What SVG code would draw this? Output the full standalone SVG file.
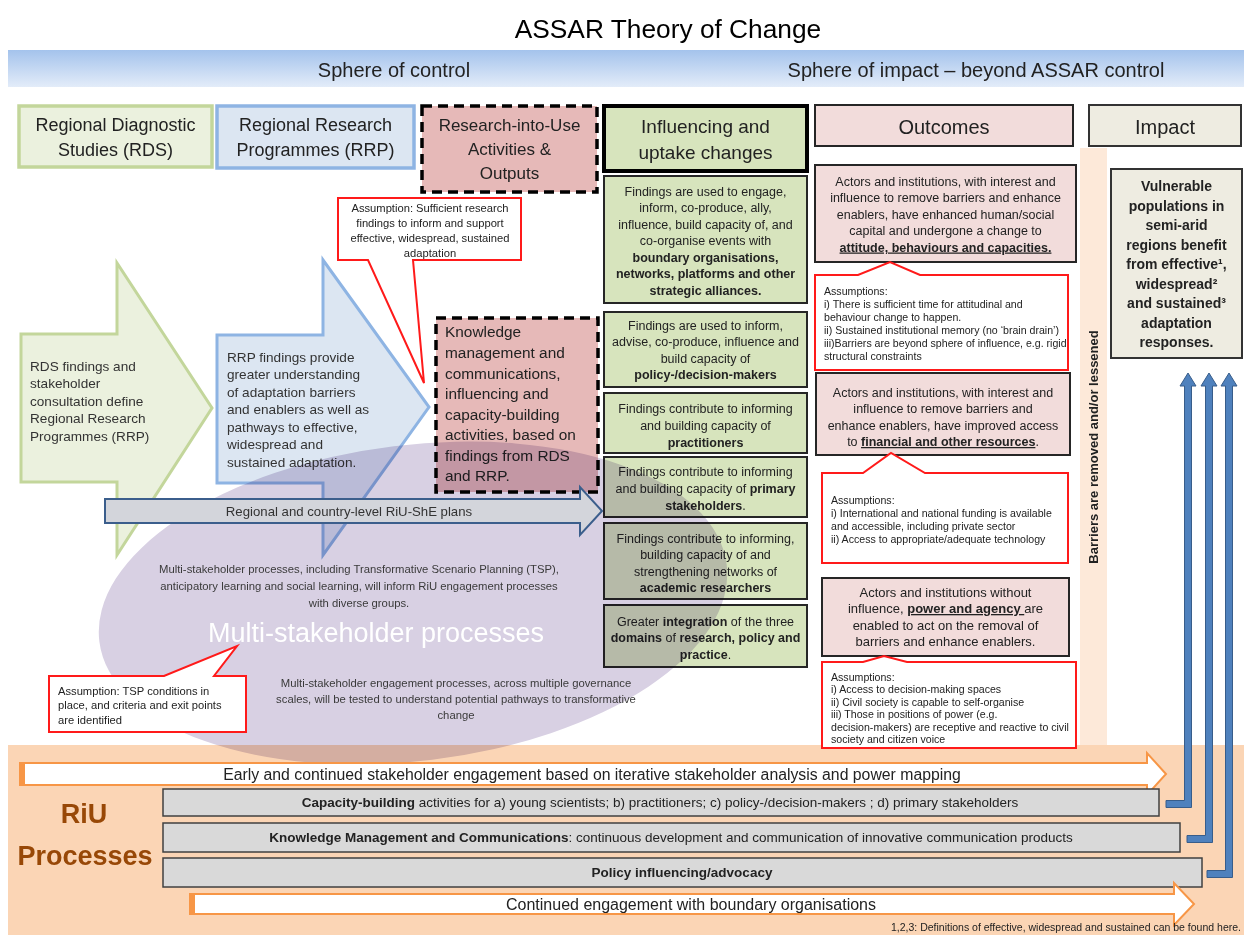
<svg xmlns="http://www.w3.org/2000/svg" width="1244" height="935" viewBox="0 0 1244 935" xml:space="preserve">
<defs>
  <linearGradient id="sphereGrad" x1="0" y1="0" x2="0" y2="1">
    <stop offset="0" stop-color="#a4c3ec"/>
    <stop offset="1" stop-color="#e3ecf9"/>
  </linearGradient>
  <style>
    text { font-family: "Liberation Sans", Arial, sans-serif; fill: #222; }
    .c { text-anchor: middle; }
    .b { font-weight: bold; }
    .u { text-decoration: underline; }
    .hdr18 { font-size: 18px; }
    .hdr17 { font-size: 17px; }
    .hdr19 { font-size: 19px; }
    .hdr20 { font-size: 20px; }
    .s125 { font-size: 12.5px; }
    .s13 { font-size: 13px; }
    .s106 { font-size: 10.6px; }
    .s112 { font-size: 11.2px; }
    .s136 { font-size: 13.6px; fill: #333; }
    .s154 { font-size: 15.4px; }
    .s113 { font-size: 11.3px; fill: #3a3a3a; }
    .s135 { font-size: 13.5px; }
    .green-box { fill: #d7e4bd; stroke: #262626; stroke-width: 2; }
    .pink-box { fill: #f2dcdb; stroke: #262626; stroke-width: 2; }
    .tan-box { fill: #eeece1; stroke: #333; stroke-width: 2; }
    .callout { fill: #fff; stroke: #ff1a1a; stroke-width: 2; stroke-linejoin: miter; }
    .dash { fill: #e6b9b8; stroke: #000; stroke-width: 3.5; stroke-dasharray: 10 6; }
    .bar { fill: #d9d9d9; stroke: #404040; stroke-width: 1.5; }
    .orange-arrow { fill: #fff; stroke: #f79646; stroke-width: 2; }
    .orange-edge { fill: #f79646; }
    .up { fill: #4f81bd; stroke: #385d8a; stroke-width: 1; }
  </style>
</defs>
<rect x="0" y="0" width="1244" height="935" fill="#fff"/>
<!-- title and sphere band -->
<g id="title"><text x="668" y="38" class="c" style="font-size:26.3px;fill:#000">ASSAR Theory of Change</text></g>
<g id="sphere-band">
  <rect x="8" y="50" width="1236" height="37" fill="url(#sphereGrad)"/>
  <text x="394" y="77" class="c hdr20">Sphere of control</text>
  <text x="976" y="77" class="c hdr20">Sphere of impact – beyond ASSAR control</text>
</g>
<!-- RiU processes band (background) -->
<rect id="riu-band" x="8" y="745" width="1236" height="190" fill="#fbd5b5"/>
<!-- barriers column -->
<g id="barriers">
  <rect x="1080" y="148" width="27" height="597" fill="#fde9d9"/>
  <text transform="translate(1097.5,447) rotate(-90)" class="c b" style="font-size:13px">Barriers are removed and/or lessened</text>
</g>
<!-- column headers -->
<g id="rds-header">
  <rect x="19" y="106" width="193" height="61" fill="#ebf1de" stroke="#c3d69b" stroke-width="3.5"/>
  <text x="115.5" y="130.5" class="c hdr18">Regional Diagnostic</text>
  <text x="115.5" y="155.5" class="c hdr18">Studies (RDS)</text>
</g>
<g id="rrp-header">
  <rect x="217" y="106" width="197" height="62" fill="#dce6f2" stroke="#8eb4e3" stroke-width="3.5"/>
  <text x="315.5" y="130.5" class="c hdr18">Regional Research</text>
  <text x="315.5" y="155.5" class="c hdr18">Programmes (RRP)</text>
</g>
<g id="riu-header">
  <rect x="422" y="106" width="175" height="86" class="dash"/>
  <text x="509.5" y="131" class="c hdr17">Research-into-Use</text>
  <text x="509.5" y="154.5" class="c hdr17">Activities &amp;</text>
  <text x="509.5" y="179" class="c hdr17">Outputs</text>
</g>
<g id="influencing-header">
  <rect x="604" y="106" width="203" height="65" fill="#d7e4bd" stroke="#000" stroke-width="4"/>
  <text x="705.5" y="133" class="c hdr19">Influencing and</text>
  <text x="705.5" y="159" class="c hdr19">uptake changes</text>
</g>
<g id="outcomes-header">
  <rect x="815" y="105" width="258" height="41" class="pink-box"/>
  <text x="944" y="134" class="c hdr20">Outcomes</text>
</g>
<g id="impact-header">
  <rect x="1089" y="105" width="152" height="41" class="tan-box"/>
  <text x="1165" y="134" class="c hdr20">Impact</text>
</g>
<!-- pathway arrows -->
<g id="rds-arrow">
  <polygon points="21,334 117,334 117,263 212,408 117,555 117,482 21,482" fill="#ebf1de" stroke="#c3d69b" stroke-width="3"/>
  <text x="30" y="370.6" class="s136">RDS findings and</text>
  <text x="30" y="387.6" class="s136">stakeholder</text>
  <text x="30" y="405.6" class="s136">consultation define</text>
  <text x="30" y="422.6" class="s136">Regional Research</text>
  <text x="30" y="440.6" class="s136">Programmes (RRP)</text>
</g>
<g id="rrp-arrow">
  <polygon points="217,335 323,335 323,260 429,407 323,555 323,483 217,483" fill="#dce6f2" stroke="#8eb4e3" stroke-width="3"/>
  <text x="227" y="361.6" class="s136">RRP findings provide</text>
  <text x="227" y="378.6" class="s136">greater understanding</text>
  <text x="227" y="396.6" class="s136">of adaptation barriers</text>
  <text x="227" y="413.6" class="s136">and enablers as well as</text>
  <text x="227" y="431.6" class="s136">pathways to effective,</text>
  <text x="227" y="448.6" class="s136">widespread and</text>
  <text x="227" y="466.6" class="s136">sustained adaptation.</text>
</g>
<g id="km-activities">
  <rect x="436" y="318" width="162" height="174" class="dash"/>
  <text x="445" y="337" class="s154">Knowledge</text>
  <text x="445" y="358" class="s154">management and</text>
  <text x="445" y="379" class="s154">communications,</text>
  <text x="445" y="399" class="s154">influencing and</text>
  <text x="445" y="420" class="s154">capacity-building</text>
  <text x="445" y="440" class="s154">activities, based on</text>
  <text x="445" y="461" class="s154">findings from RDS</text>
  <text x="445" y="481" class="s154">and RRP.</text>
</g>
<!-- influencing and uptake changes -->
<g id="boundary-orgs">
  <rect x="604" y="176" width="203" height="127" class="green-box"/>
  <text x="705.5" y="195.5" class="c s125">Findings are used to engage,</text>
  <text x="705.5" y="212" class="c s125">inform, co-produce, ally,</text>
  <text x="705.5" y="228.5" class="c s125">influence, build capacity of, and</text>
  <text x="705.5" y="245" class="c s125">co-organise events with</text>
  <text x="705.5" y="261.5" class="c s125 b">boundary organisations,</text>
  <text x="705.5" y="278" class="c s125 b">networks, platforms and other</text>
  <text x="705.5" y="294.5" class="c s125 b">strategic alliances.</text>
</g>
<g id="policy-makers">
  <rect x="604" y="312" width="203" height="75" class="green-box"/>
  <text x="705.5" y="329.5" class="c s125">Findings are used to inform,</text>
  <text x="705.5" y="346" class="c s125">advise, co-produce, influence and</text>
  <text x="705.5" y="362.5" class="c s125">build capacity of</text>
  <text x="705.5" y="379" class="c s125 b">policy-/decision-makers</text>
</g>
<g id="practitioners">
  <rect x="604" y="393" width="203" height="60" class="green-box"/>
  <text x="705.5" y="412.5" class="c s125">Findings contribute to informing</text>
  <text x="705.5" y="429.5" class="c s125">and building capacity of</text>
  <text x="705.5" y="446.5" class="c s125 b">practitioners</text>
</g>
<g id="primary-stakeholders">
  <rect x="604" y="457" width="203" height="60" class="green-box"/>
  <text x="705.5" y="475.5" class="c s125">Findings contribute to informing</text>
  <text x="705.5" y="492.5" class="c s125">and building capacity of <tspan class="b">primary</tspan></text>
  <text x="705.5" y="509.5" class="c s125"><tspan class="b">stakeholders</tspan>.</text>
</g>
<g id="academic-researchers">
  <rect x="604" y="523" width="203" height="76" class="green-box"/>
  <text x="705.5" y="542.5" class="c s125">Findings contribute to informing,</text>
  <text x="705.5" y="559" class="c s125">building capacity of and</text>
  <text x="705.5" y="575.5" class="c s125">strengthening networks of</text>
  <text x="705.5" y="592" class="c s125 b">academic researchers</text>
</g>
<g id="integration">
  <rect x="604" y="605" width="203" height="62" class="green-box"/>
  <text x="705.5" y="625.5" class="c s125">Greater <tspan class="b">integration</tspan> of the three</text>
  <text x="705.5" y="642" class="c s125"><tspan class="b">domains</tspan> of <tspan class="b">research, policy and</tspan></text>
  <text x="705.5" y="658.5" class="c s125"><tspan class="b">practice</tspan>.</text>
</g>
<!-- outcomes -->
<g id="outcome-capacities">
  <rect x="815" y="165" width="261" height="97" class="pink-box"/>
  <text x="945.5" y="185.5" class="c s125">Actors and institutions, with interest and</text>
  <text x="945.5" y="202" class="c s125">influence to remove barriers and enhance</text>
  <text x="945.5" y="218.5" class="c s125">enablers, have enhanced human/social</text>
  <text x="945.5" y="235" class="c s125">capital and undergone a change  to</text>
  <text x="945.5" y="251.5" class="c s125 b u">attitude, behaviours and capacities.</text>
</g>
<g id="assumptions-capacities">
  <path d="M815,275 H858 L890,262 L920,275 H1068 V370 H815 Z" class="callout"/>
  <text x="824" y="294.8" class="s106">Assumptions:</text>
  <text x="824" y="307.8" class="s106">i) There is sufficient time for attitudinal and</text>
  <text x="824" y="320.8" class="s106">behaviour change to happen.</text>
  <text x="824" y="333.8" class="s106">ii) Sustained institutional memory (no ‘brain drain’)</text>
  <text x="824" y="346.8" class="s106">iii)Barriers are beyond sphere of influence, e.g. rigid</text>
  <text x="824" y="359.8" class="s106">structural constraints</text>
</g>
<g id="outcome-resources">
  <rect x="816" y="373" width="254" height="82" class="pink-box"/>
  <text x="943" y="396.5" class="c s125">Actors and institutions, with interest and</text>
  <text x="943" y="413" class="c s125">influence to remove barriers and</text>
  <text x="943" y="429.5" class="c s125">enhance enablers, have improved access</text>
  <text x="943" y="446" class="c s125">to <tspan class="b u">financial and other resources</tspan>.</text>
</g>
<g id="assumptions-resources">
  <path d="M822,473 H863 L891,453 L925,473 H1068 V563 H822 Z" class="callout"/>
  <text x="831" y="503.8" class="s106">Assumptions:</text>
  <text x="831" y="516.8" class="s106"> i) International and national funding is available</text>
  <text x="831" y="529.8" class="s106">and accessible, including private sector</text>
  <text x="831" y="542.8" class="s106">ii) Access to  appropriate/adequate technology</text>
</g>
<g id="outcome-agency">
  <rect x="822" y="578" width="247" height="78" class="pink-box"/>
  <text x="945.5" y="596.5" class="c s13">Actors and institutions without</text>
  <text x="945.5" y="613" class="c s13">influence, <tspan class="b u">power and agency </tspan>are</text>
  <text x="945.5" y="629.5" class="c s13">enabled  to  act  on the removal of</text>
  <text x="945.5" y="646" class="c s13">barriers and enhance enablers.</text>
</g>
<g id="assumptions-agency">
  <path d="M822,662 H863 L884,656 L907,662 H1076 V748 H822 Z" class="callout"/>
  <text x="831" y="680.8" class="s106">Assumptions:</text>
  <text x="831" y="693.3" class="s106">i)  Access to  decision-making spaces</text>
  <text x="831" y="705.8" class="s106">ii)  Civil society is capable to self-organise</text>
  <text x="831" y="718.3" class="s106">iii) Those in positions of power (e.g.</text>
  <text x="831" y="730.8" class="s106">decision-makers) are receptive and reactive to civil</text>
  <text x="831" y="743.3" class="s106">society and citizen voice</text>
</g>
<!-- impact -->
<g id="impact">
  <rect x="1111" y="169" width="131" height="189" class="tan-box"/>
  <g style="font-size:14px">
    <text x="1176.5" y="191" class="c b">Vulnerable</text>
    <text x="1176.5" y="210.5" class="c b">populations in</text>
    <text x="1176.5" y="230" class="c b">semi-arid</text>
    <text x="1176.5" y="249.5" class="c b">regions benefit</text>
    <text x="1176.5" y="269" class="c b">from effective¹,</text>
    <text x="1176.5" y="288.5" class="c b">widespread²</text>
    <text x="1176.5" y="308" class="c b">and sustained³</text>
    <text x="1176.5" y="327.5" class="c b">adaptation</text>
    <text x="1176.5" y="347" class="c b">responses.</text>
  </g>
</g>
<!-- assumption on research findings -->
<g id="assumption-research">
  <path d="M338,198 H521 V260 H413 L424,383 L368,260 H338 Z" class="callout"/>
  <text x="430" y="212" class="c s112">Assumption: Sufficient research</text>
  <text x="430" y="227" class="c s112">findings to inform  and support</text>
  <text x="430" y="242" class="c s112">effective, widespread, sustained</text>
  <text x="430" y="256.5" class="c s112">adaptation</text>
</g>
<!-- multi-stakeholder processes -->
<g id="multi-stakeholder">
  <ellipse cx="413" cy="603" rx="316" ry="158" transform="rotate(-7 413 603)" fill="#d8d0e3" style="mix-blend-mode:multiply"/>
  <text x="359" y="573" class="c s113">Multi-stakeholder processes, including Transformative Scenario Planning (TSP),</text>
  <text x="359" y="590" class="c s113">anticipatory learning and social learning, will inform RiU engagement processes</text>
  <text x="359" y="607" class="c s113">with diverse groups.</text>
  <text x="376" y="642" class="c" style="font-size:27px;fill:#fff">Multi-stakeholder processes</text>
  <text x="456" y="687" class="c s113">Multi-stakeholder engagement processes, across multiple governance</text>
  <text x="456" y="703" class="c s113">scales, will be tested to understand potential pathways to transformative</text>
  <text x="456" y="719" class="c s113">change</text>
</g>
<g id="assumption-tsp">
  <path d="M49,676 H164 L237,646 L214,676 H246 V732 H49 Z" class="callout"/>
  <text x="58" y="695" class="s112">Assumption: TSP conditions in</text>
  <text x="58" y="709" class="s112">place, and criteria and exit points</text>
  <text x="58" y="724" class="s112">are identified</text>
</g>
<g id="riu-she-plans">
  <polygon points="105,499 580,499 580,487 602,511 580,535 580,523 105,523" fill="#d3d5db" stroke="#3b5e8c" stroke-width="2"/>
  <text x="349" y="515.6" class="c" style="font-size:13.2px;fill:#333">Regional and country-level RiU-ShE plans</text>
</g>
<!-- RiU processes -->
<g id="riu-processes-label">
  <text x="84" y="823" class="c b" style="font-size:27px;fill:#984807">RiU</text>
  <text x="85" y="865" class="c b" style="font-size:27px;fill:#984807">Processes</text>
</g>
<g id="stakeholder-engagement">
  <polygon points="20,763 1147,763 1147,753 1166,774 1147,795 1147,785 20,785" class="orange-arrow"/>
  <rect x="20" y="763" width="5" height="22" class="orange-edge"/>
  <text x="592" y="780" class="c" style="font-size:15.8px">Early and continued stakeholder engagement based on iterative stakeholder analysis and power mapping</text>
</g>
<g id="capacity-building">
  <rect x="163" y="789" width="996" height="27" class="bar"/>
  <text x="660" y="807" class="c s135"><tspan class="b">Capacity-building</tspan> activities for a) young scientists; b) practitioners; c) policy-/decision-makers ; d) primary stakeholders</text>
</g>
<g id="knowledge-management">
  <rect x="163" y="823" width="1017" height="29" class="bar"/>
  <text x="671" y="842" class="c s135"><tspan class="b">Knowledge  Management  and Communications</tspan>: continuous development  and communication of innovative communication products</text>
</g>
<g id="policy-influencing">
  <rect x="163" y="858" width="1039" height="29" class="bar"/>
  <text x="682" y="877" class="c s135 b">Policy influencing/advocacy</text>
</g>
<g id="boundary-engagement">
  <polygon points="190,894 1174,894 1174,883 1194,904 1174,925 1174,914 190,914" class="orange-arrow"/>
  <rect x="190" y="894" width="5" height="20" class="orange-edge"/>
  <text x="691" y="910" class="c" style="font-size:16px">Continued engagement with boundary organisations</text>
</g>
<!-- connectors from RiU processes up to impact -->
<g id="connectors">
  <polygon points="1166,800.5 1184.5,800.5 1184.5,386 1180,386 1188,373 1196,386 1191.5,386 1191.5,807.5 1166,807.5" class="up"/>
  <polygon points="1187,835.5 1205.5,835.5 1205.5,386 1201,386 1209,373 1217,386 1212.5,386 1212.5,842.5 1187,842.5" class="up"/>
  <polygon points="1207,870.5 1225.5,870.5 1225.5,386 1221,386 1229,373 1237,386 1232.5,386 1232.5,877.5 1207,877.5" class="up"/>
</g>
<text id="footnote" x="1241" y="931" style="font-size:10.5px;text-anchor:end">1,2,3: Definitions of effective, widespread and sustained can be found here.</text>
</svg>
